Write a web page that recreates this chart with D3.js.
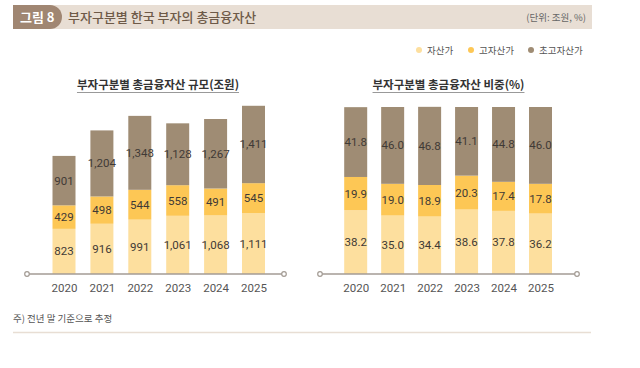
<!DOCTYPE html>
<html><head><meta charset="utf-8">
<script src="https://cdn.jsdelivr.net/npm/d3@7"></script>
<style>
body{margin:0;background:#fff;}
svg{display:block;}
</style></head>
<body>
<svg id="c" width="640" height="368"></svg>
<script>
const years = ["2020","2021","2022","2023","2024","2025"];
const series = ["자산가","고자산가","초고자산가"];
const amtAsset = [823, 916, 991, 1061, 1068, 1111];
const amtHigh = [429, 498, 544, 558, 491, 545];
const amtUltra = [901, 1204, 1348, 1128, 1267, 1411];
const pctAsset = [38.2, 35.0, 34.4, 38.6, 37.8, 36.2];
const pctHigh = [19.9, 19.0, 18.9, 20.3, 17.4, 17.8];
const pctUltra = [41.8, 46.0, 46.8, 41.1, 44.8, 46.0];
const colors = ["#fddf9e", "#fdc755", "#9f8c74"];
const titleMain = "부자구분별 한국 부자의 총금융자산";
const titleLeft = "부자구분별 총금융자산 규모(조원)";
const titleRight = "부자구분별 총금융자산 비중(%)";
const note = "주) 전년 말 기준으로 추정";
const unit = "(단위: 조원, %)";

const svg = d3.select("#c");
const KF = "'Noto Sans CJK KR','Noto Sans',sans-serif";
const NF = "'Liberation Sans Narrow','Roboto',sans-serif";

// header
svg.append("rect").attr("x",13).attr("y",5).attr("width",579).attr("height",24).attr("fill","#e8ded4");
svg.append("path").attr("d","M13,5 H50 A12,12 0 0 1 50,29 H13 Z").attr("fill","#a08672");
svg.append("text").attr("x",20).attr("y",22).attr("fill","#fff").attr("font-family",KF).attr("font-weight","bold").attr("font-size",13).text("그림 8");
svg.append("text").attr("x",68).attr("y",22).attr("fill","#6e5a48").attr("font-family",KF).attr("font-weight","500").attr("font-size",13).text(titleMain);
svg.append("text").attr("x",586).attr("y",21).attr("text-anchor","end").attr("fill","#666").attr("font-family",KF).attr("font-size",9.5).text(unit);

// legend
const legX = [419, 471, 531];
series.forEach((s,i)=>{
  svg.append("circle").attr("cx",legX[i]).attr("cy",50).attr("r",3).attr("fill",colors[i]);
  svg.append("text").attr("x",legX[i]+8).attr("y",53.5).attr("fill","#555").attr("font-family",KF).attr("font-size",9.5).text(s);
});

function drawChart(cfg){
  const g = svg.append("g");
  const x = d3.scalePoint().domain(years).range([cfg.x0, cfg.x1]);
  const y = d3.scaleLinear().domain([0, cfg.max]).range([274, cfg.top]);
  const bw = 23;
  const arrs = cfg.data;
  years.forEach((yr,i)=>{
    let cum = 0;
    arrs.forEach((arr,k)=>{
      const v = arr[i];
      const y0 = y(cum), y1 = y(cum+v);
      g.append("rect").attr("x",x(yr)-bw/2).attr("y",y1).attr("width",bw).attr("height",y0-y1).attr("fill",colors[k]);
      g.append("text").attr("x",x(yr)).attr("y",(y0+y1)/2+4).attr("text-anchor","middle")
        .attr("fill","#3f3a36").attr("font-family",NF).attr("font-size",11.5).text(cfg.fmt(v));
      cum += v;
    });
  });
  // axis
  g.append("line").attr("x1",cfg.ax0).attr("x2",cfg.ax1).attr("y1",274).attr("y2",274).attr("stroke","#a39b94").attr("stroke-width",1.5);
  [cfg.ax0, cfg.ax1].forEach(cx=>g.append("circle").attr("cx",cx).attr("cy",274).attr("r",2.3).attr("fill","#fff").attr("stroke","#a39b94").attr("stroke-width",1.2));
  const ax = d3.axisBottom(x).tickSize(0).tickPadding(10);
  const axg = g.append("g").attr("transform","translate(0,274)").call(ax);
  axg.select(".domain").remove();
  axg.selectAll("text").attr("fill","#555").attr("font-family",NF).attr("font-size",11.5);
  // title
  const t = g.append("text").attr("x",cfg.tx).attr("y",89).attr("text-anchor","middle").attr("fill","#333")
    .attr("font-family",KF).attr("font-weight","bold").attr("font-size",11.5).text(cfg.title);
  const bb = t.node().getBBox();
  g.append("line").attr("x1",bb.x).attr("x2",bb.x+bb.width).attr("y1",92.5).attr("y2",92.5).attr("stroke","#999").attr("stroke-width",1);
}

drawChart({x0:64, x1:253.5, max:3300, top:93, data:[amtAsset, amtHigh, amtUltra], fmt:d3.format(","), ax0:27, ax1:284, tx:158, title:titleLeft});
drawChart({x0:355.7, x1:540.5, max:100, top:107, data:[pctAsset, pctHigh, pctUltra], fmt:d3.format(".1f"), ax0:320, ax1:577, tx:448.5, title:titleRight});

// footnote
svg.append("text").attr("x",13).attr("y",322).attr("fill","#555").attr("font-family",KF).attr("font-size",9.5).text(note);
svg.append("line").attr("x1",13).attr("x2",591).attr("y1",332.5).attr("y2",332.5).attr("stroke","#e8ded4").attr("stroke-width",1.5);
</script>
</body></html>
